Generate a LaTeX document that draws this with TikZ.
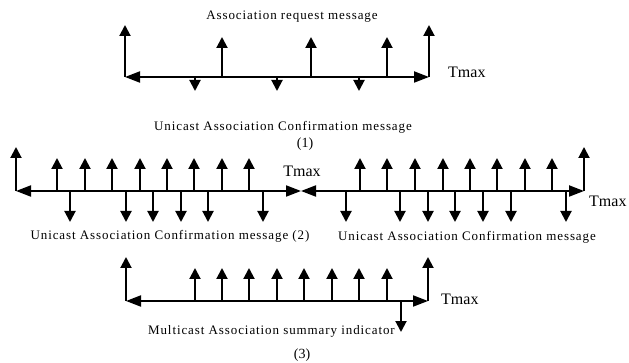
\documentclass[tikz,border=0pt]{standalone}
\usepackage{fontspec}
\setmainfont{Liberation Serif}
\newfontfamily\spacedfont[LetterSpace=7]{Liberation Serif}
\usetikzlibrary{arrows.meta}
\usetikzlibrary{positioning}

\tikzset{
  axis/.style={line width=2pt, {Triangle[length=15pt,width=11pt]}-{Triangle[length=15pt,width=11pt]}},
  tick/.style={line width=2pt, -{Triangle[length=11pt,width=11pt]}},
  lbl/.style={font=\fontsize{13}{15}\spacedfont, inner sep=0pt},
  num/.style={font=\fontsize{14}{16}\selectfont, inner sep=0pt},
  tmax/.style={font=\fontsize{16}{18}\selectfont, inner sep=0pt},
}

\begin{document}
\begin{tikzpicture}[x=1pt, y=-1pt]
    \useasboundingbox (0,0) rectangle (629,363);

        % Define nodes
        % (1)
        \coordinate (a) at (125,77);
        \coordinate (b) at (429,77);
        \coordinate (at) at (125,25);
        \coordinate (bt) at (429,25);
        \node[lbl]               (req) at (292,17)  {Association request message};
        \node[tmax, anchor=west] (t1)  at (448,72)  {Tmax};
        \node[lbl]               (uc1) at (283,127) {Unicast Association Confirmation message};
        \node[num, below=4pt of uc1, xshift=22pt] (n1) {(1)};
        % (2)
        \coordinate (c) at (16,191);
        \coordinate (m) at (301,191);
        \coordinate (d) at (584,191);
        \coordinate (ct) at (16,147);
        \coordinate (dt) at (584,147);
        \node[tmax]              (t2)  at (302,171) {Tmax};
        \node[tmax, anchor=west] (t3)  at (589,201) {Tmax};
        \node[lbl]               (uc2) at (170,236) {Unicast Association Confirmation message (2)};
        \node[lbl]               (uc3) at (467,237) {Unicast Association Confirmation message};
        % (3)
        \coordinate (e) at (126,301);
        \coordinate (f) at (428,301);
        \coordinate (et) at (126,257);
        \coordinate (ft) at (428,257);
        \node[tmax, anchor=west] (t4)  at (441,299) {Tmax};
        \node[lbl, anchor=east]  (mc)  at (395,331) {Multicast Association summary indicator};
        \node[num]               (n3)  at (302,355) {(3)};

        % Connect the nodes
        \draw[axis] (a) -- (b);
        \draw[tick] (a) -- (at);
        \draw[tick] (b) -- (bt);
        \foreach \x [count=\i] in {222,311,387}
          {\coordinate (u1\i) at (\x,77); \draw[tick] (u1\i) -- ++(0,-40);}
        \foreach \x [count=\i] in {195,277,359}
          {\coordinate (d1\i) at (\x,77); \draw[tick] (d1\i) -- ++(0,14);}

        \draw[axis] (c) -- (m);
        \draw[axis] (m) -- (d);
        \draw[tick] (c) -- (ct);
        \draw[tick] (d) -- (dt);
        \foreach \x [count=\i] in {57,85,112,140,167,194,222,249,360,387,415,443,470,497,525,552}
          {\coordinate (u2\i) at (\x,191); \draw[tick] (u2\i) -- ++(0,-33);}
        \foreach \x [count=\i] in {70,126,153,181,208,263,346,400,428,455,483,511,566}
          {\coordinate (d2\i) at (\x,191); \draw[tick] (d2\i) -- ++(0,31);}

        \draw[axis] (e) -- (f);
        \draw[tick] (e) -- (et);
        \draw[tick] (f) -- (ft);
        \foreach \x [count=\i] in {195,222,249,277,304,332,359,387}
          {\coordinate (u3\i) at (\x,301); \draw[tick] (u3\i) -- ++(0,-33);}
        \coordinate (d31) at (401,301);
        \draw[tick] (d31) -- ++(0,31);

\end{tikzpicture}
\end{document}
